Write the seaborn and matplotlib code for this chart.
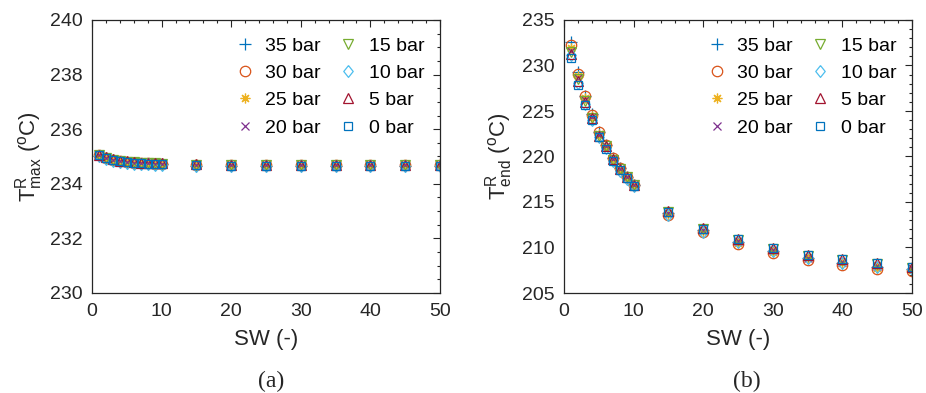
import numpy as np
import pandas as pd
import matplotlib
matplotlib.use("Agg")
import matplotlib.pyplot as plt
import seaborn as sns
from matplotlib.ticker import MultipleLocator

sns.set_theme(style="white")
plt.rcParams['font.family'] = ['Liberation Sans', 'DejaVu Sans']
plt.rcParams['mathtext.fontset'] = 'custom'
plt.rcParams['mathtext.rm'] = 'Liberation Sans'
plt.rcParams['mathtext.it'] = 'Liberation Sans:italic'

sw = [1, 2, 3, 4, 5, 6, 7, 8, 9, 10, 15, 20, 25, 30, 35, 40, 45, 50]
labels = ["35 bar", "30 bar", "25 bar", "20 bar", "15 bar", "10 bar", "5 bar", "0 bar"]
colors = ["#0072BD", "#D95319", "#EDB120", "#7E2F8E", "#77AC30", "#4DBEEE", "#A2142F", "#0072BD"]

# Panel (a): T^R_max
tmax_35 = [235.03, 234.93, 234.86, 234.81, 234.78, 234.76, 234.74, 234.73, 234.72, 234.71, 234.67, 234.66, 234.66, 234.66, 234.66, 234.66, 234.66, 234.66]
tmax_30 = [235.05, 234.95, 234.88, 234.83, 234.80, 234.78, 234.76, 234.75, 234.74, 234.73, 234.69, 234.68, 234.68, 234.68, 234.68, 234.68, 234.68, 234.68]
tmax_25 = [235.05, 234.95, 234.88, 234.83, 234.80, 234.78, 234.76, 234.75, 234.74, 234.73, 234.69, 234.68, 234.68, 234.68, 234.68, 234.68, 234.68, 234.68]
tmax_20 = [235.05, 234.95, 234.88, 234.83, 234.80, 234.78, 234.76, 234.75, 234.74, 234.73, 234.69, 234.68, 234.68, 234.68, 234.68, 234.68, 234.68, 234.68]
tmax_15 = [235.06, 234.96, 234.89, 234.84, 234.81, 234.79, 234.77, 234.76, 234.75, 234.74, 234.70, 234.69, 234.69, 234.69, 234.69, 234.69, 234.69, 234.69]
tmax_10 = [235.01, 234.91, 234.84, 234.79, 234.76, 234.74, 234.72, 234.71, 234.70, 234.69, 234.65, 234.64, 234.64, 234.64, 234.64, 234.64, 234.64, 234.64]
tmax_5 = [235.07, 234.97, 234.90, 234.85, 234.82, 234.80, 234.78, 234.77, 234.76, 234.75, 234.71, 234.70, 234.70, 234.70, 234.70, 234.70, 234.70, 234.70]
tmax_0 = [235.04, 234.94, 234.87, 234.82, 234.79, 234.77, 234.75, 234.74, 234.73, 234.72, 234.68, 234.67, 234.67, 234.67, 234.67, 234.67, 234.67, 234.67]

# Panel (b): T^R_end
tend_35 = [232.6, 229.3, 226.7, 224.7, 222.7, 221.3, 219.8, 218.7, 217.8, 216.9, 213.8, 211.9, 210.6, 209.6, 208.9, 208.3, 207.9, 207.6]
tend_30 = [232.3, 229.1, 226.6, 224.6, 222.7, 221.3, 219.8, 218.7, 217.8, 216.9, 213.6, 211.7, 210.4, 209.4, 208.6, 208.1, 207.6, 207.4]
tend_25 = [231.9, 228.8, 226.4, 224.4, 222.5, 221.2, 219.7, 218.6, 217.7, 216.9, 213.7, 211.8, 210.5, 209.5, 208.8, 208.3, 207.8, 207.5]
tend_20 = [231.6, 228.6, 226.2, 224.3, 222.4, 221.1, 219.7, 218.6, 217.7, 216.9, 213.8, 211.9, 210.7, 209.7, 208.9, 208.4, 208.0, 207.7]
tend_15 = [231.5, 228.5, 226.1, 224.2, 222.3, 221.1, 219.6, 218.6, 217.7, 216.9, 213.9, 212.0, 210.8, 209.8, 209.1, 208.6, 208.2, 207.8]
tend_10 = [231.1, 228.1, 225.8, 224.0, 222.1, 220.9, 219.5, 218.4, 217.5, 216.8, 213.6, 211.7, 210.6, 209.6, 208.8, 208.3, 207.9, 207.6]
tend_5 = [231.3, 228.3, 226.0, 224.2, 222.3, 221.1, 219.7, 218.6, 217.7, 216.9, 214.0, 212.1, 210.9, 209.9, 209.2, 208.7, 208.3, 207.9]
tend_0 = [230.8, 227.9, 225.7, 224.0, 222.1, 220.8, 219.5, 218.5, 217.6, 216.8, 213.9, 212.0, 210.9, 209.9, 209.2, 208.7, 208.3, 207.9]

tmax = [tmax_35, tmax_30, tmax_25, tmax_20, tmax_15, tmax_10, tmax_5, tmax_0]
tend = [tend_35, tend_30, tend_25, tend_20, tend_15, tend_10, tend_5, tend_0]

diamond = [(0, 1), (0.8, 0), (0, -1), (-0.8, 0), (0, 1)]
marker_styles = [
    dict(marker="+", markersize=8),
    dict(marker="o", markersize=7.5),
    dict(marker=(8, 2, 0), markersize=7),
    dict(marker="x", markersize=5.5),
    dict(marker="v", markersize=7),
    dict(marker=diamond, markersize=8.5),
    dict(marker="^", markersize=7),
    dict(marker="s", markersize=5.8),
]
lineart = [True, False, True, True, False, False, False, False]

fig = plt.figure(figsize=(9.26, 3.93), dpi=100)
axL = fig.add_axes([92/926, 1-293/393, 348/926, 273/393])
axR = fig.add_axes([564/926, 1-293/393, 348/926, 273/393])

fg = "#262626"

def draw(ax, series, ylim, ymajor, yminor, ylabel):
    for lab, ms, la, c, ys in zip(labels, marker_styles, lineart, colors, series):
        df = pd.DataFrame({"SW": sw, "T": ys})
        kw = dict(ms)
        kw.update(markeredgewidth=0.9, markeredgecolor=c, color=c, linestyle="")
        if not la:
            kw["markerfacecolor"] = "none"
        sns.lineplot(data=df, x="SW", y="T", ax=ax, label=lab, sort=False,
                     estimator=None, **kw)
    ax.set_xlim(0, 50)
    ax.set_ylim(*ylim)
    ax.xaxis.set_major_locator(MultipleLocator(10))
    ax.xaxis.set_minor_locator(MultipleLocator(2))
    ax.yaxis.set_major_locator(MultipleLocator(ymajor))
    ax.yaxis.set_minor_locator(MultipleLocator(yminor))
    ax.tick_params(which="both", direction="in", top=True, right=True,
                   color=fg, labelcolor=fg, width=0.8)
    ax.tick_params(which="major", length=5, labelsize=14, pad=7)
    ax.tick_params(which="minor", length=2.5)
    for s in ax.spines.values():
        s.set_color(fg)
        s.set_linewidth(0.9)
    ax.set_xlabel("SW (-)", fontsize=16, color=fg)
    ax.set_ylabel(ylabel, fontsize=16, color=fg)
    ax.xaxis.set_label_coords(0.5, -0.132)
    leg = ax.legend(ncol=2, loc="upper left", bbox_to_anchor=(0.4106, 0.938),
                    frameon=False, fontsize=14, borderaxespad=0, borderpad=0,
                    handletextpad=0.55, columnspacing=0.93, labelspacing=0.5,
                    handlelength=1.0)
    for t in leg.get_texts():
        t.set_color("black")

draw(axL, tmax, (230, 240), 2, 0.5, r"$\mathrm{T^{R}_{max}}$ ($^{\mathrm{o}}$C)")
draw(axR, tend, (205, 235), 5, 1, r"$\mathrm{T^{R}_{end}}$ ($^{\mathrm{o}}$C)")
axL.yaxis.set_label_coords(-0.135, 0.5)
axR.yaxis.set_label_coords(-0.14, 0.5)

fig.text(271/926, 1-381/393, "(a)", ha="center", va="center", fontsize=17,
         family=["Liberation Serif", "DejaVu Serif"], color=fg)
fig.text(747/926, 1-381/393, "(b)", ha="center", va="center", fontsize=17,
         family=["Liberation Serif", "DejaVu Serif"], color=fg)

fig.savefig("out.png", dpi=100)
